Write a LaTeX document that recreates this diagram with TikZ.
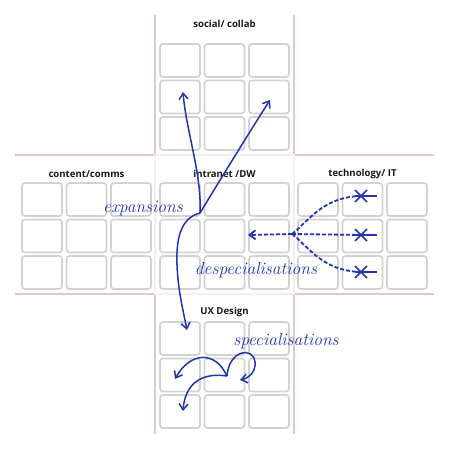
\documentclass[tikz,border=0pt]{standalone}
\usepackage{fontspec}
\newfontfamily\titlefont{Open Sans}
\usetikzlibrary{arrows.meta}
\definecolor{pen}{RGB}{35,52,178}
\definecolor{guide}{RGB}{228,200,200}
\definecolor{cellgray}{RGB}{210,210,210}
\tikzset{
  cell/.style={draw=cellgray, line width=1.7bp, rounded corners=3bp, minimum width=40bp, minimum height=33bp, inner sep=0pt},
  guideline/.style={draw=guide, line width=1.3bp},
  ttl/.style={font=\titlefont\bfseries\fontsize{9.6bp}{11bp}\selectfont, text=black!90, inner sep=0pt},
  hand/.style={font=\itshape\fontsize{17.5bp}{19bp}\selectfont, text=pen, inner sep=0pt},
  penline/.style={draw=pen, line width=1.5bp, -{Straight Barb[length=6bp,width=9bp]}},
  dashpen/.style={draw=pen, line width=1.8bp, dash pattern=on 4bp off 2bp},
  xmark/.style={draw=pen, line width=1.5bp},
}
\begin{document}
\begin{tikzpicture}[x=1bp,y=-1bp]
\useasboundingbox (0,0) rectangle (450,450);
\fill[white] (0,0) rectangle (450,450);
% guide lines
\draw[guideline] (155,15) -- (155,434);
\draw[guideline] (294,15) -- (294,434);
\draw[guideline] (15,155) -- (434,155);
\draw[guideline] (15,294) -- (434,294);
\fill[white,opacity=0.7] (154,154) rectangle (295,295);
% grids
\foreach \blk/\ox/\oy in {soc/160/44, con/22/183, int/160/183, tec/298/183, ux/160/322}{
  \foreach \r in {0,1,2}{
    \foreach \c in {0,1,2}{
      \node[cell] (\blk-\r-\c) at ({\ox+20+44.5*\c},{\oy+16.5+36.5*\r}) {};
    }
  }
}
% titles
\node[ttl] (tsoc) at (224.5,24) {social/ collab};
\node[ttl] (tcon) at (86.5,174) {content/comms};
\node[ttl] (tint) at (224.5,174) {intranet /DW};
\node[ttl] (ttec) at (362.5,174) {technology/ IT};
\node[ttl] (tux) at (224.5,312) {UX Design};
% handwritten labels
\node[hand] (lexp) at (143,209) {expansions};
\node[hand] (ldesp) at (256,270) {despecialisations};
\node[hand] (lspec) at (286,341) {specialisations};
% expansion tree
\coordinate (jn) at (200,213);
\coordinate (tipA) at (183,92);
\coordinate (tipB) at (270,100);
\coordinate (tipC) at (187,330);
\draw[penline] (jn) .. controls (202,175) and (186,130) .. (tipA);
\draw[penline] (jn) .. controls (220,180) and (252,128) .. (tipB);
\draw[penline] (jn) .. controls (180,218) and (176,240) .. (177,265) .. controls (178,290) and (183,310) .. (tipC);
% despecialisations
\coordinate (hub) at (292,234);
\coordinate (dtip) at (248,235);
\coordinate (x1) at (361,196);
\coordinate (x2) at (361,235);
\coordinate (x3) at (361,272);
\draw[dashpen,-{Straight Barb[length=6bp,width=9bp]}] (hub) -- (dtip);
\draw[dashpen] (hub) .. controls (308,222) and (322,197) .. (x1);
\draw[dashpen] (hub) -- (x2);
\draw[dashpen] (hub) .. controls (308,246) and (322,271) .. (x3);
\foreach \p in {x1,x2,x3}{
  \draw[xmark] ([xshift=-6bp]\p) -- ([xshift=16bp]\p);
  \draw[xmark] ([xshift=-6bp,yshift=6bp]\p) -- ([xshift=6bp,yshift=-6bp]\p);
  \draw[xmark] ([xshift=-6bp,yshift=-6bp]\p) -- ([xshift=6bp,yshift=6bp]\p);
}
% specialisations
\coordinate (cusp) at (227,376);
\coordinate (sA) at (175,379);
\coordinate (sB) at (240,380);
\coordinate (sC) at (183,411);
\draw[penline] (cusp) .. controls (215,350) and (190,352) .. (sA);
\draw[penline] (cusp) .. controls (229,350) and (253,346) .. (255,362) .. controls (256,372) and (249,378) .. (sB);
\draw[penline] (cusp) .. controls (200,372) and (185,385) .. (sC);
\end{tikzpicture}
\end{document}
